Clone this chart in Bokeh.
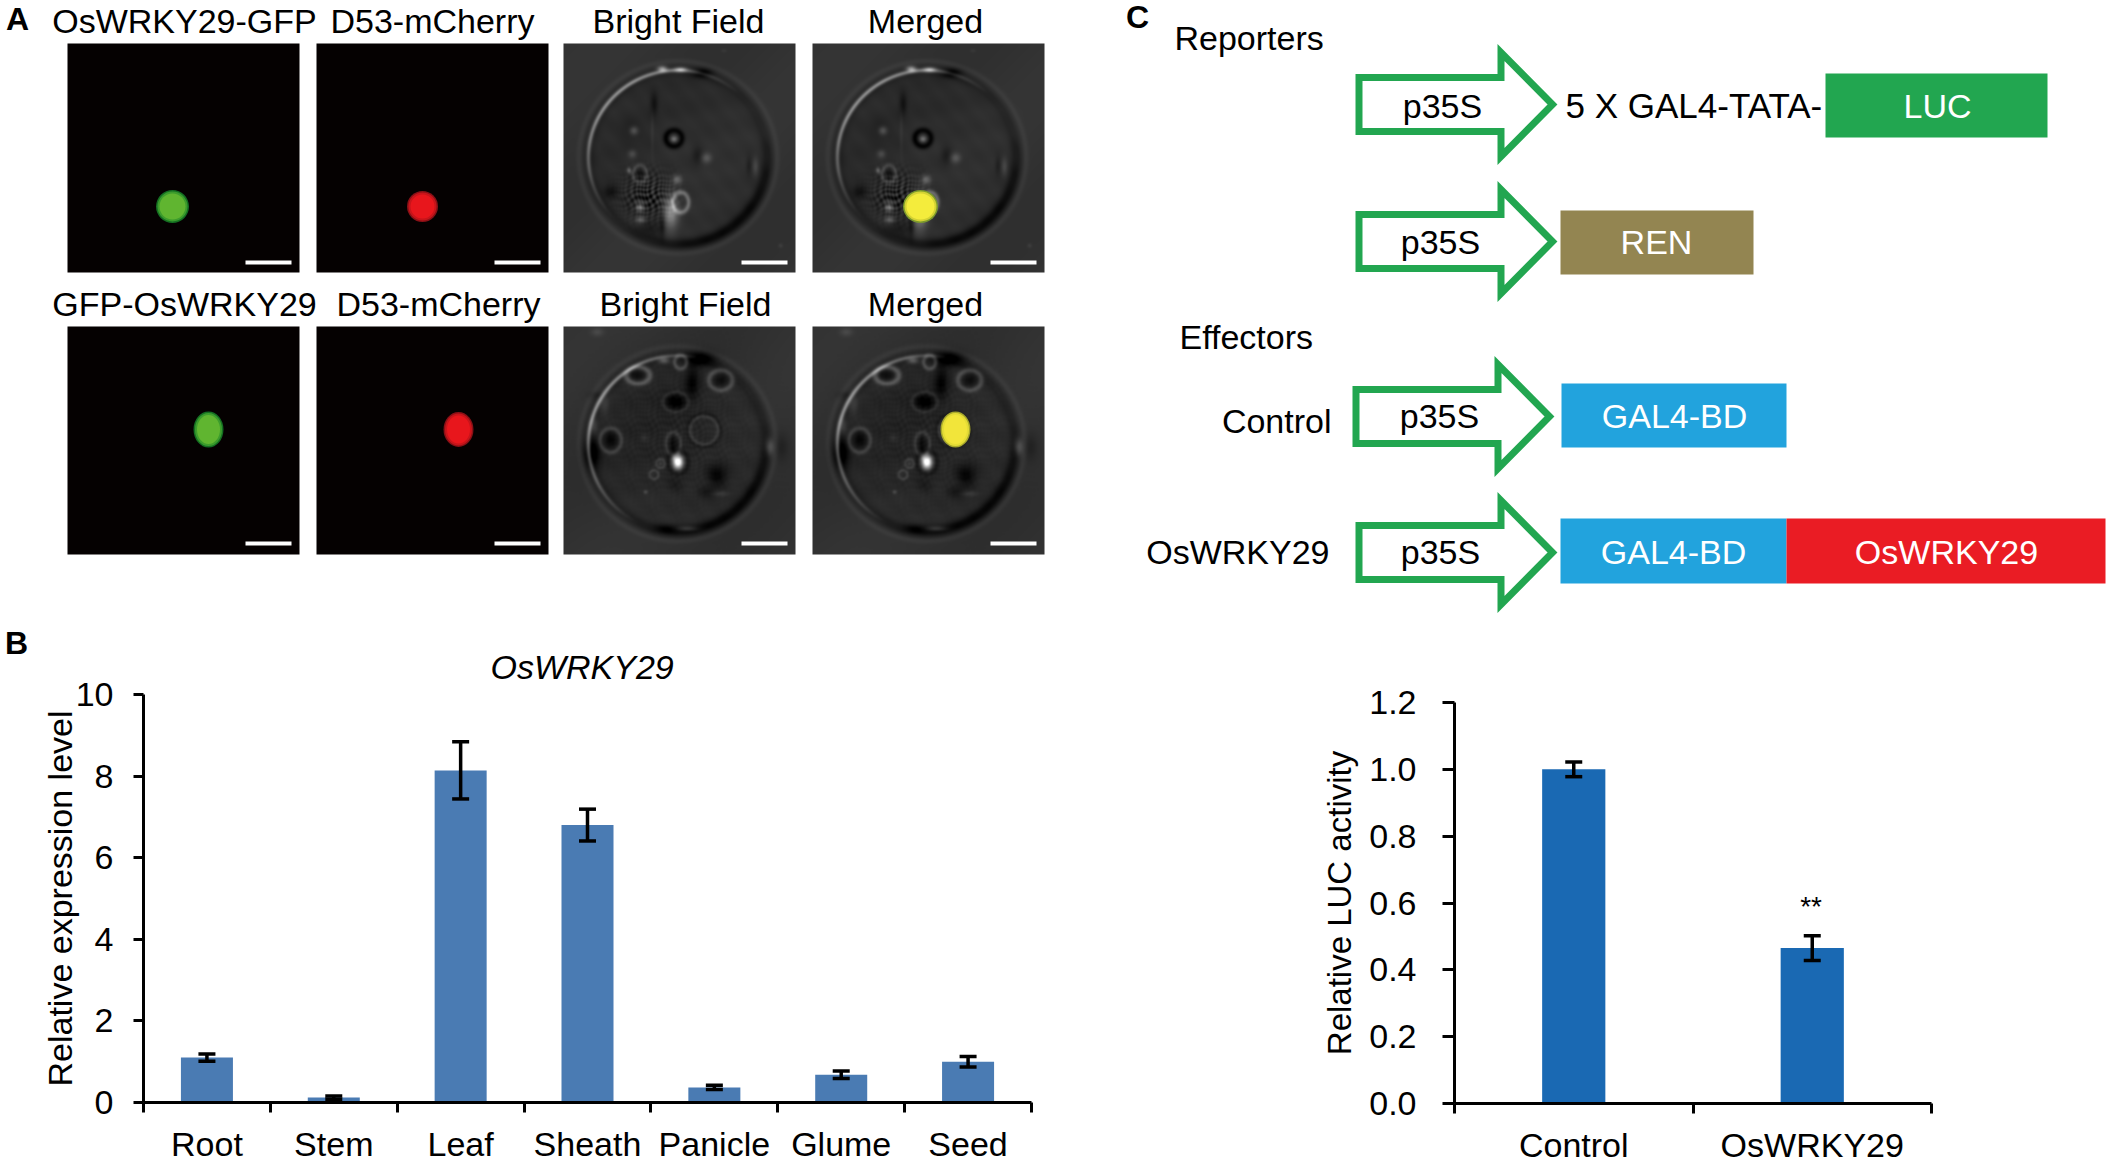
import numpy as np
from bokeh.core.properties import value
from bokeh.embed import file_html
from bokeh.layouts import column, row
from bokeh.models import (ColumnDataSource, FixedTicker, Label, LinearAxis, Range1d,
                          TeeHead, Title, Whisker)
from bokeh.plotting import figure
from bokeh.resources import INLINE

# ---- panel B data
tissues = ["Root", "Stem", "Leaf", "Sheath", "Panicle", "Glume", "Seed"]
expression = [1.10, 0.12, 8.14, 6.80, 0.37, 0.68, 1.00]
expression_err = [0.09, 0.04, 0.70, 0.39, 0.05, 0.09, 0.13]
expression_ticks = [0, 2, 4, 6, 8, 10]

# ---- panel C chart data
effectors = ["Control", "OsWRKY29"]
luc_activity = [1.00, 0.465]
luc_err = [0.022, 0.037]
luc_ticks = [0.0, 0.2, 0.4, 0.6, 0.8, 1.0, 1.2]

FONT = "Liberation Sans"
GREEN = "#22a650"
TOP_H = 620
PAGE_BOTTOM = 1165


def Y(y):
    """page-pixel y to the upward y of the diagram canvas"""
    return PAGE_BOTTOM - y


# ---- canvas for panel A and the schematic of panel C
top = figure(width=2109, height=TOP_H, x_range=Range1d(0, 2109),
             y_range=Range1d(Y(TOP_H), Y(0)), x_axis_type=None, y_axis_type=None,
             toolbar_location=None, output_backend="svg", min_border=0,
             outline_line_color=None, background_fill_color="white", frame_align=False)
top.grid.visible = False


def put(text, x, y, size=34, align="center", color="black", style="normal"):
    top.text([x], [Y(y - 1.5)], text=[text], text_font=value(FONT), text_font_size=f"{size}px",
             text_align=align, text_baseline="middle", text_color=color, text_font_style=style)


def cell_image(w, h, cx, cy, rx, ry, arc_deg, blobs, rings, tex=None):
    """grey micrograph; coordinates are 3x pixels, origin (10, 25) at the image corner"""
    yy, xx = np.mgrid[0:h, 0:w].astype(float)
    xx = 10 + 3 * xx
    yy = 25 + 3 * yy
    r = np.sqrt(((xx - cx) / rx) ** 2 + ((yy - cy) / ry) ** 2)
    ang = np.arctan2(yy - cy, xx - cx)
    inside = np.clip((1.0 - r) / 0.03, 0, 1)
    g = 50 - 5 * inside
    g = g + 3 * np.sin((xx + yy) / 110.0) + 2.5 * np.sin((xx - 2 * yy) / 27.0) * np.sin(xx / 19.0) * inside
    lower = np.clip(np.cos(ang - np.radians(55)), 0.35, 1)
    g -= 40 * lower * np.exp(-((r - 0.96) / 0.06) ** 2)
    g += 10 * np.exp(-((r - 1.06) / 0.03) ** 2)
    light = np.clip(np.cos(ang - np.radians(arc_deg)), 0, 1) ** 1.3
    g += (125 * light + 4) * np.exp(-((r - 0.96) / 0.02) ** 2)
    for (bx, by, sx, sy, a) in blobs:
        g += a * np.exp(-((xx - bx) / sx) ** 2 - ((yy - by) / sy) ** 2)
    for (bx, by, Rx, Ry, wd, a) in rings:
        d = np.sqrt(((xx - bx) / Rx) ** 2 + ((yy - by) / Ry) ** 2)
        g += a * np.exp(-((d - 1) * min(Rx, Ry) / wd) ** 2)
    if tex:
        tx, ty, sx, sy, a = tex
        env = np.exp(-((xx - tx) / sx) ** 2 - ((yy - ty) / sy) ** 2)
        g += a * env * np.sin(.29 * xx + .17 * yy + 2 * np.sin(.07 * yy)) * np.sin(.23 * yy - .19 * xx + 2 * np.sin(.09 * xx))
    for _ in range(2):
        g = (2 * g + np.roll(g, 1, 0) + np.roll(g, -1, 0) + np.roll(g, 1, 1) + np.roll(g, -1, 1)) / 6
    g = np.clip(g, 0, 255).astype(np.uint32)
    return (g | (g << 8) | (g << 16) | (255 << 24))[::-1]


blobs1 = [(305, 100, 14, 8, 120), (360, 102, 18, 7, 115), (425, 112, 28, 13, -45), (280, 205, 11, 32, -28),
          (275, 290, 4, 70, 12), (220, 285, 12, 12, 50), (210, 285, 30, 30, -10), (215, 355, 12, 12, 36),
          (340, 310, 9, 8, 70), (340, 308, 42, 42, 8), (438, 367, 15, 15, 45), (410, 360, 16, 26, -20),
          (350, 432, 13, 13, 60), (205, 405, 6, 8, 70), (238, 415, 12, 22, -20), (150, 470, 22, 20, -28),
          (330, 530, 22, 50, 95), (238, 515, 12, 13, 85), (240, 552, 14, 10, 60), (305, 565, 8, 35, -30),
          (585, 392, 8, 26, 25), (565, 390, 8, 26, -18), (270, 580, 45, 25, -15), (660, 630, 6, 6, 18), (490, 45, 8, 5, 12),
          (265, 500, 70, 60, -12)]
rings1 = [(340, 308, 24, 24, 9, -48), (360, 500, 24, 30, 6, 70), (238, 415, 20, 26, 5, 35)]
tex1 = (265, 480, 65, 58, 65)
blobs2 = [(352, 430, 14, 19, 260), (340, 420, 8, 8, 40), (310, 125, 16, 9, 65), (420, 120, 42, 22, -45), (345, 250, 34, 24, -42),
          (395, 190, 20, 42, -38), (232, 170, 25, 14, -25), (480, 185, 22, 18, -28), (338, 375, 12, 26, -28), (150, 365, 20, 26, -32),
          (95, 405, 24, 42, -50), (470, 470, 30, 34, -36), (440, 520, 30, 18, -18), (480, 525, 26, 8, 22), (628, 385, 12, 24, 48),
          (662, 385, 22, 40, -14), (300, 435, 6, 7, 25), (345, 500, 26, 24, -12), (255, 520, 5, 5, 45), (250, 358, 10, 10, 14),
          (110, 40, 18, 12, 22), (380, 630, 30, 7, 45), (320, 630, 35, 14, -22), (130, 250, 15, 30, 28), (100, 320, 10, 25, 30),
          (110, 230, 25, 12, -14), (350, 375, 240, 240, -9)]
rings2 = [(232, 170, 35, 25, 7, 55), (360, 130, 18, 20, 6, 45), (480, 185, 35, 30, 7, 42), (430, 335, 42, 42, 5, 24),
          (430, 335, 50, 50, 6, -12), (352, 430, 30, 34, 8, -20), (338, 375, 22, 34, 5, 26), (300, 435, 13, 13, 4, 30),
          (280, 468, 13, 13, 4, 30), (150, 365, 32, 36, 6, 34), (345, 250, 38, 30, 5, 22)]

rows_y = [(43, 229), (326, 228)]
columns_x = [67, 316, 563, 812]
PANEL_W = 232
imgs = [cell_image(PANEL_W, 229, 352, 365, 280, 272, 225, blobs1, rings1, tex1),
        cell_image(PANEL_W, 228, 350, 375, 278, 275, 205, blobs2, rings2, (350, 340, 200, 200, 8))]

for (py, ph), img in zip(rows_y, imgs):
    for cx_ in columns_x[:2]:
        top.quad(left=[cx_], right=[cx_ + PANEL_W], top=[Y(py)], bottom=[Y(py + ph)], fill_color="#050101", line_color=None)
    for cx_ in columns_x[2:]:
        top.image_rgba(image=[img], x=[cx_], y=[Y(py + ph)], dw=[PANEL_W], dh=[ph])

spots = [(172, 206, 33, 33, "#146f22", "#3c9c2c", "#60b530"), (422, 206, 31, 31, "#8a1016", "#c8141a", "#e8161c"),
         (920, 206, 35, 33, "#7c9a2c", "#d4d234", "#f4ec3c"), (208, 429, 30, 36, "#146f22", "#3c9c2c", "#60b530"),
         (458, 429, 30, 35, "#8a1016", "#c8141a", "#e8161c"), (955, 429, 30, 36, "#a8a82c", "#e4dc36", "#f2e53a")]
for sx, sy, w, h, c0, c1, c2 in spots:
    top.ellipse([sx], [Y(sy)], width=w, height=h, fill_color=c0, line_color=None)
    top.ellipse([sx], [Y(sy)], width=w - 3, height=h - 3, fill_color=c1, line_color=None)
    top.ellipse([sx], [Y(sy)], width=w - 7, height=h - 7, fill_color=c2, line_color=None)

for by in (262, 543):
    for bx in (245, 494, 741, 990):
        top.quad(left=[bx], right=[bx + 46], top=[Y(by - 2)], bottom=[Y(by + 2)], fill_color="white", line_color=None)

put("A", 17, 20, 32, style="bold")
put("C", 1137, 18, 32, style="bold")

put("OsWRKY29-GFP", 184, 22)
put("D53-mCherry", 432, 22)
put("Bright Field", 678, 22)
put("Merged", 925, 22)
put("GFP-OsWRKY29", 184, 305)
put("D53-mCherry", 438, 305)
put("Bright Field", 685, 305)
put("Merged", 925, 305)


def arrow(L, cy):
    x0, xb, xt = L + 3.5, L + 145.5, L + 197
    xs = [x0, xb, xb, xt, xb, xb, x0]
    ys = [cy - 27, cy - 27, cy - 52, cy, cy + 52, cy + 27, cy + 27]
    top.patch(xs, [Y(v) for v in ys], fill_color="white", line_color=GREEN, line_width=7, line_join="miter")


for L, cy in [(1355, 104), (1355, 241), (1352, 416), (1355, 552)]:
    arrow(L, cy)


def box(x0, x1, y0, y1, color, label, tx, ty):
    top.quad(left=[x0], right=[x1], top=[Y(y0)], bottom=[Y(y1)], fill_color=color, line_color=None)
    put(label, tx, ty, color="white")


box(1825, 2047, 73, 137, "#22a650", "LUC", 1937, 107)
box(1560, 1753, 210, 274, "#938551", "REN", 1656, 243)
box(1561, 1786, 383, 447, "#22a3dd", "GAL4-BD", 1674, 417)
box(1560, 1786, 518, 583, "#22a3dd", "GAL4-BD", 1673, 553)
box(1786, 2105, 518, 583, "#ea1c24", "OsWRKY29", 1946, 553)

put("p35S", 1442, 107)
put("p35S", 1440, 243)
put("p35S", 1439, 417)
put("p35S", 1440, 553)
put("5 X GAL4-TATA-", 1565, 106, size=35, align="left")
put("Reporters", 1174, 39, align="left")
put("Effectors", 1179, 338, align="left")
put("Control", 1331, 422, align="right")
put("OsWRKY29", 1329, 553, align="right")


def style_axes(p, xaxis, yaxis, tick_y, label_size):
    for ax in (xaxis, yaxis):
        ax.axis_line_width = 3
        ax.axis_line_color = "black"
        ax.major_tick_line_color = "black"
        ax.major_tick_line_width = 3
        ax.major_label_text_font = FONT
        ax.major_label_text_font_size = "34px"
        ax.major_label_text_color = "black"
        ax.axis_label_text_font = FONT
        ax.axis_label_text_font_size = f"{label_size}px"
        ax.axis_label_text_font_style = "normal"
        ax.axis_label_text_color = "black"
        ax.major_tick_in = 0
        ax.minor_tick_in = 0
    xaxis.major_tick_out = 0
    xaxis.minor_tick_out = 10
    xaxis.minor_tick_line_color = "black"
    xaxis.minor_tick_line_width = 3
    yaxis.minor_tick_line_color = None
    yaxis.major_tick_out = tick_y


def whisker(src):
    return Whisker(base="x", upper="upper", lower="lower", source=src, line_color="black", line_width=3.5, level="overlay",
                   upper_head=TeeHead(size=17, line_width=3.5, line_color="black"),
                   lower_head=TeeHead(size=17, line_width=3.5, line_color="black"))


# ---- narrow strip that carries the panel letter B
STRIP_W = 34
BOTTOM_H = PAGE_BOTTOM - TOP_H
strip = figure(width=STRIP_W, height=BOTTOM_H, x_range=Range1d(0, STRIP_W), y_range=Range1d(0, BOTTOM_H),
               x_axis_type=None, y_axis_type=None, toolbar_location=None, output_backend="svg", min_border=0,
               outline_line_color=None, frame_align=False)
strip.grid.visible = False
strip.text([16], [BOTTOM_H - 22], text=["B"], text_font=value(FONT), text_font_size="32px", text_font_style="bold",
           text_align="center", text_baseline="middle", text_color="black")

# ---- panel B
n = len(tissues)
src_b = ColumnDataSource(dict(x=[i + 0.5 for i in range(n)], top=expression,
                              upper=[v + e for v, e in zip(expression, expression_err)],
                              lower=[v - e for v, e in zip(expression, expression_err)]))
fb = figure(frame_width=888, frame_height=408, x_range=Range1d(0, n), y_range=Range1d(0, 10),
            x_axis_type=None, y_axis_type=None, toolbar_location=None, output_backend="svg",
            min_border_left=143 - STRIP_W, min_border_right=209, min_border_top=74, min_border_bottom=63,
            outline_line_color=None, frame_align=False)
fb.grid.visible = False
fb.vbar(x="x", top="top", bottom=0, width=0.41, source=src_b, fill_color="#4a7bb3", line_color=None)
fb.add_layout(whisker(src_b))
xa = LinearAxis(ticker=FixedTicker(ticks=[i + 0.5 for i in range(n)], minor_ticks=list(range(n + 1))),
                major_label_overrides={i + 0.5: t for i, t in enumerate(tissues)}, major_label_standoff=12)
ya = LinearAxis(ticker=FixedTicker(ticks=expression_ticks), axis_label="Relative expression level",
                major_label_standoff=20, axis_label_standoff=-6)
fb.add_layout(xa, "below")
fb.add_layout(ya, "left")
style_axes(fb, xa, ya, 10, 34)
fb.add_layout(Title(text="OsWRKY29", align="left", offset=347, standoff=18, text_font=FONT, text_font_size="34px",
                    text_font_style="italic", text_color="black"), "above")

# ---- panel C chart
m = len(effectors)
src_d = ColumnDataSource(dict(x=[i + 0.5 for i in range(m)], top=luc_activity,
                              upper=[v + e for v, e in zip(luc_activity, luc_err)],
                              lower=[v - e for v, e in zip(luc_activity, luc_err)]))
fd = figure(frame_width=477, frame_height=401, x_range=Range1d(0, m), y_range=Range1d(0, 1.2),
            x_axis_type=None, y_axis_type=None, toolbar_location=None, output_backend="svg",
            min_border_left=214, min_border_right=178, min_border_top=82, min_border_bottom=62,
            outline_line_color=None, frame_align=False)
fd.grid.visible = False
fd.vbar(x="x", top="top", bottom=0, width=0.265, source=src_d, fill_color="#1a69b3", line_color=None)
fd.add_layout(whisker(src_d))
xd = LinearAxis(ticker=FixedTicker(ticks=[i + 0.5 for i in range(m)], minor_ticks=list(range(m + 1))),
                major_label_overrides={i + 0.5: t for i, t in enumerate(effectors)}, major_label_standoff=12)
yd = LinearAxis(ticker=FixedTicker(ticks=luc_ticks), axis_label="Relative LUC activity",
                major_label_standoff=26, axis_label_standoff=8)
yd.major_label_overrides = {t: f"{t:.1f}" for t in luc_ticks}
fd.add_layout(xd, "below")
fd.add_layout(yd, "left")
style_axes(fd, xd, yd, 12, 33)
fd.add_layout(Label(x=1.495, y=0.59, text="**", text_font=FONT, text_font_size="28px",
                    text_align="center", text_baseline="middle", text_color="black"))

page = column(top, row(strip, fb, fd))
open("out.html", "w").write(file_html(page, INLINE))
